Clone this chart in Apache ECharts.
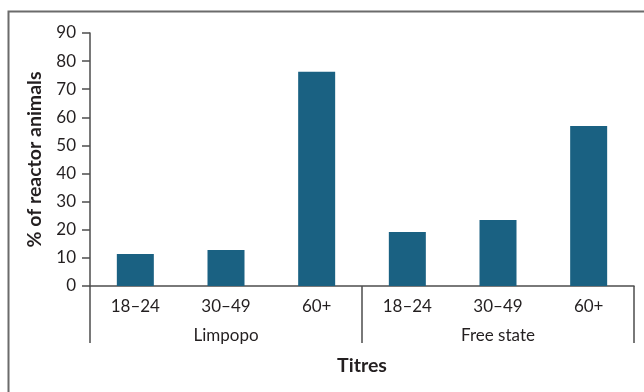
<!DOCTYPE html>
<html><head><meta charset="utf-8">
<script src="https://cdn.jsdelivr.net/npm/echarts@6/dist/echarts.min.js"></script>
<style>html,body{margin:0;padding:0;background:#fff}#c{width:644px;height:392px}</style>
</head><body><div id="c"></div>
<script>
const categories = ['18–24','30–49','60+','18–24','30–49','60+'];
const groups = ['Limpopo','Free state'];
const values = [11.4, 12.8, 76.2, 19.2, 23.5, 56.9];
const yTicks = [0,10,20,30,40,50,60,70,80,90];

const FONT = 'Lato';
const TXT = '#231f20';
const AX = '#4d4d4d';
const chart = echarts.init(document.getElementById('c'), null, {renderer:'canvas'});
chart.setOption({
  animation:false,
  backgroundColor:'#fff',
  graphic:[{type:'rect',left:6,top:9,shape:{width:700,height:500},style:{fill:'none',stroke:'#6b6b6b',lineWidth:2},z:-1}],
  grid:{left:90,right:10,top:33,bottom:106},
  xAxis:[{
    type:'category',data:categories,position:'bottom',
    axisLine:{lineStyle:{color:AX,width:1.5}},
    axisTick:{length:7,lineStyle:{color:AX,width:1.5}},
    axisLabel:{color:TXT,fontFamily:FONT,fontSize:17,margin:12}
  },{
    type:'category',data:groups,position:'bottom',
    name:'Titres',nameLocation:'middle',nameGap:70,
    nameTextStyle:{color:TXT,fontFamily:FONT,fontSize:19.5,fontWeight:'bold'},
    axisLine:{show:false},
    axisTick:{show:true,length:57,lineStyle:{color:AX,width:1.5}},
    axisLabel:{color:TXT,fontFamily:FONT,fontSize:17,margin:41}
  }],
  yAxis:{
    type:'value',min:0,max:90,interval:10,
    name:'% of reactor animals',nameLocation:'middle',nameGap:45,
    nameTextStyle:{color:TXT,fontFamily:FONT,fontSize:19.5,fontWeight:'bold'},
    axisLine:{show:true,lineStyle:{color:AX,width:1.5}},
    axisTick:{show:true,length:8,lineStyle:{color:AX,width:1.5}},
    splitLine:{show:false},
    axisLabel:{color:TXT,fontFamily:FONT,fontSize:17,margin:14,
      formatter:v=>yTicks.includes(v)?String(v):''}
  },
  series:[{type:'bar',xAxisIndex:0,data:values,barWidth:37,itemStyle:{color:'#1a6182'}}]
});
</script></body></html>
